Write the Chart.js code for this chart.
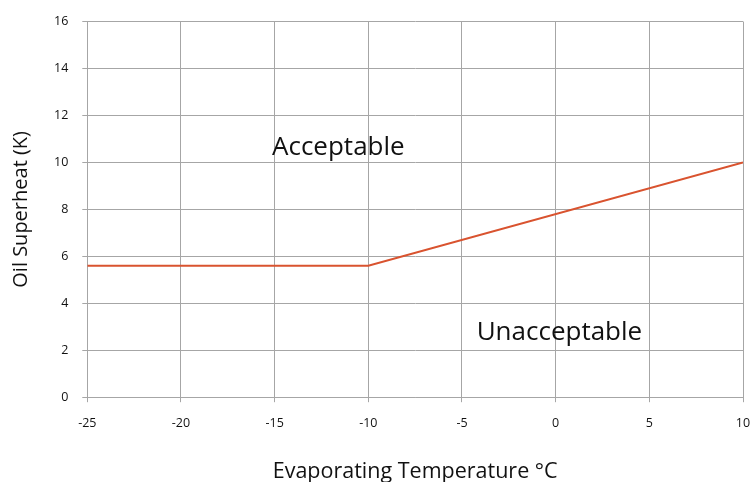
<!DOCTYPE html>
<html>
<head>
<meta charset="utf-8">
<script src="https://cdn.jsdelivr.net/npm/chart.js@4/dist/chart.umd.min.js"></script>
<style>
  html, body { margin: 0; padding: 0; background: #fff; }
  #wrap { width: 752px; height: 482px; }
</style>
</head>
<body>
<div id="wrap"><canvas id="chart"></canvas></div>
<script>
// limit curve: evaporating temperature vs oil superheat
const evapTemps = [-25, -10, 10];
const superheat = [5.6, 5.6, 10];

const xTicks = [-25, -20, -15, -10, -5, 0, 5, 10];
const yTicks = [0, 2, 4, 6, 8, 10, 12, 14, 16];

// region labels placed in data coordinates
const regionLabels = [
    { text: 'Acceptable', x: -11.6, y: 10.65 },
    { text: 'Unacceptable', x: 0.2, y: 2.75 }
];

const fontFamily = '"Open Sans", "Noto Sans", sans-serif';

const regionLabelPlugin = {
    id: 'regionLabels',
    afterDatasetsDraw(chart) {
        const ctx = chart.ctx;
        const xs = chart.scales.x, ys = chart.scales.y;
        ctx.save();
        ctx.font = '26px ' + fontFamily;
        ctx.fillStyle = '#111';
        ctx.textAlign = 'center';
        ctx.textBaseline = 'middle';
        regionLabels.forEach(function (l) {
            ctx.fillText(l.text, xs.getPixelForValue(l.x), ys.getPixelForValue(l.y));
        });
        ctx.restore();
    }
};

const ctx = document.getElementById('chart').getContext('2d');
const chart = new Chart(ctx, {
    type: 'line',
    data: {
        datasets: [{
            data: evapTemps.map((t, i) => ({ x: t, y: superheat[i] })),
            borderColor: '#d9532f',
            borderWidth: 2,
            pointRadius: 0,
            tension: 0,
            fill: false
        }]
    },
    options: {
        responsive: true,
        maintainAspectRatio: false,
        animation: false,
        layout: { padding: { top: 11, right: 0, left: 9, bottom: -3 } },
        plugins: {
            legend: { display: false },
            tooltip: { enabled: false }
        },
        scales: {
            x: {
                type: 'linear',
                min: -25,
                max: 10,
                afterBuildTicks: s => { s.ticks = xTicks.map(v => ({ value: v })); },
                afterFit: s => { s.paddingRight = 9; },
                grid: { color: '#a6a6a6', lineWidth: 1, tickLength: 5 },
                border: { color: '#a6a6a6' },
                ticks: {
                    color: '#111',
                    font: { family: fontFamily, size: 12.5 },
                    padding: 14,
                    maxRotation: 0
                },
                title: {
                    display: true,
                    text: 'Evaporating Temperature °C',
                    color: '#111',
                    font: { family: fontFamily, size: 21.5 },
                    padding: { top: 14, bottom: 0 }
                }
            },
            y: {
                min: 0,
                max: 16,
                afterBuildTicks: s => { s.ticks = yTicks.map(v => ({ value: v })); },
                grid: { color: '#a6a6a6', lineWidth: 1, tickLength: 5 },
                border: { color: '#a6a6a6' },
                ticks: {
                    color: '#111',
                    font: { family: fontFamily, size: 12.5 },
                    padding: 14
                },
                title: {
                    display: true,
                    text: 'Oil Superheat (K)',
                    color: '#111',
                    font: { family: fontFamily, size: 20 },
                    padding: { top: 0, bottom: 7 }
                }
            }
        }
    },
    plugins: [regionLabelPlugin]
});
</script>
</body>
</html>
